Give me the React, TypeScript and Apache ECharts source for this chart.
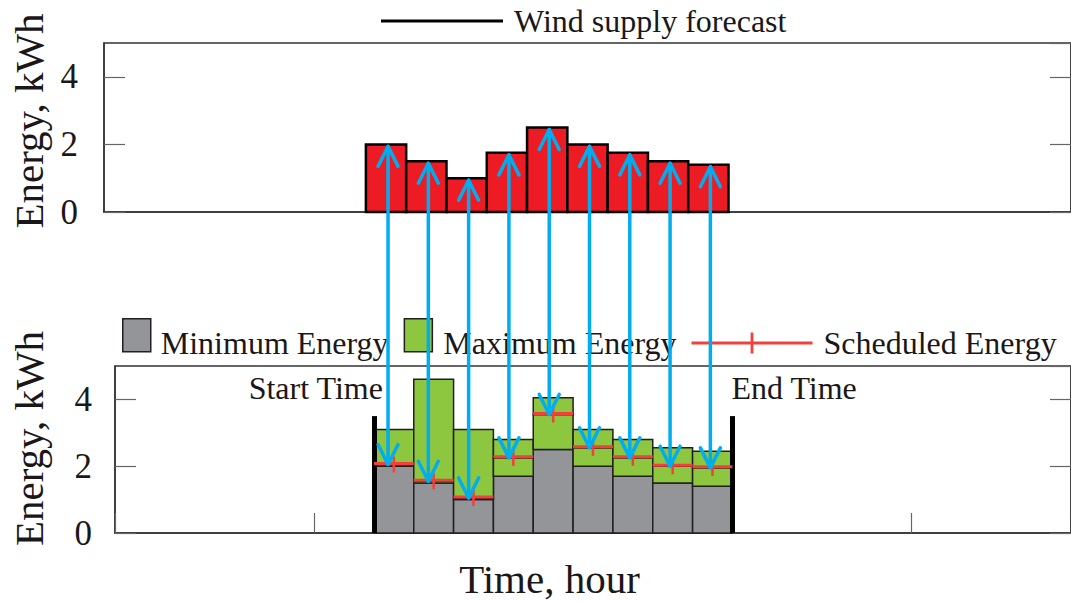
import React, { useEffect, useRef } from 'react';
import * as echarts from 'echarts';

// ---- data ----
const hours = [7, 8, 9, 10, 11, 12, 13, 14, 15];
const windForecast = [2.0, 1.5, 1.0, 1.75, 2.5, 2.0, 1.75, 1.5, 1.4];
const minEnergy = [2.0, 1.5, 1.0, 1.7, 2.5, 2.0, 1.7, 1.5, 1.4];
const maxEnergy = [3.1, 4.6, 3.1, 2.8, 4.05, 3.1, 2.8, 2.55, 2.45];
const scheduledEnergy = [2.05, 1.55, 1.05, 2.25, 3.55, 2.55, 2.25, 2.0, 1.95];
const timeRange = [0, 24];
const timeTickStep = 5;
const energyRange = [0, 5];
const energyTickStep = 2;
const startTime = 6.5;
const endTime = 15.5;
const windowMarkerHeight = 3.5;
const startLabel = 'Start Time';
const endLabel = 'End Time';

const FONT = "'Liberation Serif', 'Times New Roman', serif";
const INK = '#1b1718';
const RED_BAR = '#ED1C24';
const GREY = '#939598';
const GREEN = '#8DC63F';
const EDGE = '#231F20';
const SCHED = '#F2403D';
const BLUE = '#00AEEF';

// legend swatch: square at the top of a taller box so the label sits lower
const SWATCH_ICON = 'path://M0,0L28,0L28,33L0,33Z M14,49L14,49Z';

export default function App() {
  const ref = useRef<HTMLDivElement>(null);

  useEffect(() => {
    if (!ref.current) return;
    const chart = echarts.init(ref.current, null, { renderer: 'svg' });

    const windData = hours.map((h, i) => [h, windForecast[i]]);
    const minData = hours.map((h, i) => [h, minEnergy[i]]);
    const maxData = hours.map((h, i) => [h, minEnergy[i], scheduledEnergy[i], maxEnergy[i]]);
    const schedData = hours.map((h, i) => [h, scheduledEnergy[i]]);

    const yLeft = (grid: number, nameGap: number, shiftPad: number, margin: number) => ({
      type: 'value', gridIndex: grid, min: energyRange[0], max: energyRange[1], interval: energyTickStep,
      name: 'Energy, kWh', nameLocation: 'middle', nameGap,
      nameTextStyle: { fontFamily: FONT, fontSize: 41, color: INK, padding: [0, 0, 0, shiftPad] },
      axisLine: { show: true, lineStyle: { color: '#333', width: 1.5 } },
      axisTick: { show: true, inside: true, length: 21, lineStyle: { color: '#666', width: 1.2 } },
      axisLabel: { fontFamily: FONT, fontSize: 35, color: INK, margin, showMaxLabel: false },
      splitLine: { show: false },
    });
    const yRight = (grid: number) => ({
      type: 'value', gridIndex: grid, position: 'right', min: energyRange[0], max: energyRange[1], interval: energyTickStep,
      axisLine: { show: true, lineStyle: { color: '#333', width: 1.5 } },
      axisTick: { show: true, inside: true, length: 21, lineStyle: { color: '#666', width: 1.2 } },
      axisLabel: { show: false },
      splitLine: { show: false },
    });

    const rectBetween = (api: any, x: number, y0: number, y1: number, style: any) => {
      const a = api.coord([x - 0.5, y1]);
      const b = api.coord([x + 0.5, y0]);
      return { type: 'rect', shape: { x: a[0], y: a[1], width: b[0] - a[0], height: b[1] - a[1] }, style };
    };

    const option: any = {
      animation: false,
      backgroundColor: '#ffffff',
      grid: [
        { left: 104, top: 43, width: 976, height: 169, show: true, borderColor: '#333', borderWidth: 1.5 },
        { left: 110.6, top: 366, width: 971, height: 167, show: true, borderColor: '#333', borderWidth: 1.5 },
      ],
      xAxis: [
        {
          type: 'value', gridIndex: 0, min: timeRange[0], max: timeRange[1], interval: timeTickStep,
          axisLine: { show: true, onZero: false, lineStyle: { color: '#333', width: 1.5 } },
          axisTick: { show: false }, axisLabel: { show: false }, splitLine: { show: false },
        },
        {
          type: 'value', gridIndex: 1, min: timeRange[0], max: timeRange[1], interval: timeTickStep,
          name: 'Time, hour', nameLocation: 'middle', nameGap: 25,
          nameTextStyle: { fontFamily: FONT, fontSize: 41, color: INK, padding: [0, 87, 0, 0] },
          axisLine: { show: true, onZero: false, lineStyle: { color: '#333', width: 1.5 } },
          axisTick: { show: true, inside: true, length: 20, lineStyle: { color: '#666', width: 1.2 } },
          axisLabel: { show: false }, splitLine: { show: false },
        },
      ],
      yAxis: [yLeft(0, 51, 13, 26), yRight(0), yLeft(1, 66, 22, 23), yRight(1)],
      legend: [
        {
          left: 381, top: 5, padding: 0, selectedMode: false, icon: 'rect', itemWidth: 122, itemHeight: 3,
          textStyle: { fontFamily: FONT, fontSize: 32, color: INK, padding: [0, 0, 0, 6] },
          data: [{ name: 'Wind supply forecast', itemStyle: { color: '#000', borderWidth: 0 } }],
        },
        {
          left: 122, top: 318, padding: 0, selectedMode: false, icon: SWATCH_ICON, itemWidth: 28, itemHeight: 49,
          textStyle: { fontFamily: FONT, fontSize: 32, color: INK, padding: [0, 0, 0, 5] },
          data: [{ name: 'Minimum Energy', itemStyle: { color: GREY, borderColor: EDGE, borderWidth: 1.5 } }],
        },
        {
          left: 403.6, top: 318, padding: 0, selectedMode: false, icon: SWATCH_ICON, itemWidth: 28, itemHeight: 49,
          textStyle: { fontFamily: FONT, fontSize: 32, color: INK, padding: [0, 0, 0, 6] },
          data: [{ name: 'Maximum Energy', itemStyle: { color: GREEN, borderColor: EDGE, borderWidth: 1.5 } }],
        },
        {
          left: 691.5, top: 327, padding: 0, selectedMode: false, itemWidth: 121, itemHeight: 21,
          textStyle: { fontFamily: FONT, fontSize: 32, color: INK, padding: [0, 0, 0, 6] },
          data: [{
            name: 'Scheduled Energy',
            icon: 'path://M0,9L121,9L121,12L0,12Z M59.1,0L61.9,0L61.9,21L59.1,21Z',
            itemStyle: { color: SCHED, borderWidth: 0 },
          }],
        },
      ],
      series: [
        {
          name: 'Wind supply forecast', type: 'custom', xAxisIndex: 0, yAxisIndex: 0,
          data: windData, encode: { x: 0, y: 1 },
          itemStyle: { color: RED_BAR },
          renderItem: (params: any, api: any) =>
            rectBetween(api, api.value(0), 0, api.value(1), { fill: RED_BAR, stroke: '#000', lineWidth: 2.5 }),
        },
        {
          name: 'Minimum Energy', type: 'custom', xAxisIndex: 1, yAxisIndex: 2,
          data: minData, encode: { x: 0, y: 1 },
          itemStyle: { color: GREY },
          renderItem: (params: any, api: any) =>
            rectBetween(api, api.value(0), 0, api.value(1), { fill: GREY, stroke: EDGE, lineWidth: 1.5 }),
          markLine: {
            silent: true, symbol: ['none', 'none'], label: { show: false },
            lineStyle: { color: '#000', width: 5, type: 'solid' },
            data: [
              [{ coord: [startTime, 0] }, { coord: [startTime, windowMarkerHeight] }],
              [{ coord: [endTime, 0] }, { coord: [endTime, windowMarkerHeight] }],
            ],
          },
        },
        {
          name: 'Maximum Energy', type: 'custom', xAxisIndex: 1, yAxisIndex: 2,
          data: maxData, encode: { x: 0, y: [1, 2, 3] },
          itemStyle: { color: GREEN },
          renderItem: (params: any, api: any) => {
            const x = api.value(0);
            const st = { fill: GREEN, stroke: EDGE, lineWidth: 1.5 };
            return {
              type: 'group',
              children: [
                rectBetween(api, x, api.value(1), api.value(2), st),
                rectBetween(api, x, api.value(2), api.value(3), st),
              ],
            };
          },
        },
        {
          name: 'Scheduled Energy', type: 'custom', xAxisIndex: 1, yAxisIndex: 2,
          data: schedData, encode: { x: 0, y: 1 }, z: 5,
          itemStyle: { color: SCHED },
          renderItem: (params: any, api: any) => {
            const x = api.value(0);
            const y = api.value(1);
            const l = api.coord([x - 0.5, y]);
            const r = api.coord([x + 0.5, y]);
            const c = api.coord([x, y]);
            return {
              type: 'group',
              children: [
                { type: 'line', shape: { x1: l[0], y1: l[1] - 1, x2: r[0], y2: r[1] - 1 }, style: { stroke: SCHED, lineWidth: 3 } },
                { type: 'line', shape: { x1: c[0], y1: c[1] - 8, x2: c[0], y2: c[1] + 8 }, style: { stroke: SCHED, lineWidth: 2.5 } },
              ],
            };
          },
        },
      ],
    };

    chart.setOption(option);

    // arrows linking forecast to schedule, plus start / end labels
    const graphics: any[] = [];
    hours.forEach((h, i) => {
      const top = chart.convertToPixel({ seriesIndex: 0 }, [h, windForecast[i]]) as number[];
      const bot = chart.convertToPixel({ seriesIndex: 3 }, [h, scheduledEnergy[i]]) as number[];
      const x = top[0] + 2;
      const y1 = top[1] + 2;
      const y2 = bot[1];
      const st = { stroke: BLUE, lineWidth: 3.5, fill: null, lineCap: 'round', lineJoin: 'round' };
      graphics.push(
        { type: 'line', z: 100, silent: true, shape: { x1: x, y1, x2: x, y2 }, style: st },
        { type: 'polyline', z: 100, silent: true, shape: { points: [[x - 10, y1 + 20], [x, y1], [x + 10, y1 + 20]] }, style: st },
        { type: 'polyline', z: 100, silent: true, shape: { points: [[x - 10, y2 - 20], [x, y2], [x + 10, y2 - 20]] }, style: st },
      );
    });
    const sPix = chart.convertToPixel({ seriesIndex: 3 }, [startTime, windowMarkerHeight]) as number[];
    const ePix = chart.convertToPixel({ seriesIndex: 3 }, [endTime, windowMarkerHeight]) as number[];
    graphics.push({
      type: 'text', z: 50, x: sPix[0] + 9, y: sPix[1] - 28,
      style: { text: startLabel, font: `32px ${FONT}`, fill: INK, textAlign: 'right', textVerticalAlign: 'middle' },
    });
    graphics.push({
      type: 'text', z: 50, x: ePix[0] - 1, y: ePix[1] - 28,
      style: { text: endLabel, font: `32px ${FONT}`, fill: INK, textAlign: 'left', textVerticalAlign: 'middle' },
    });
    chart.setOption({ graphic: graphics });

    return () => chart.dispose();
  }, []);

  return (
    <div
      ref={ref}
      style={{ position: 'absolute', left: 0, top: 0, width: 1071, height: 601, background: '#fff' }}
    />
  );
}
